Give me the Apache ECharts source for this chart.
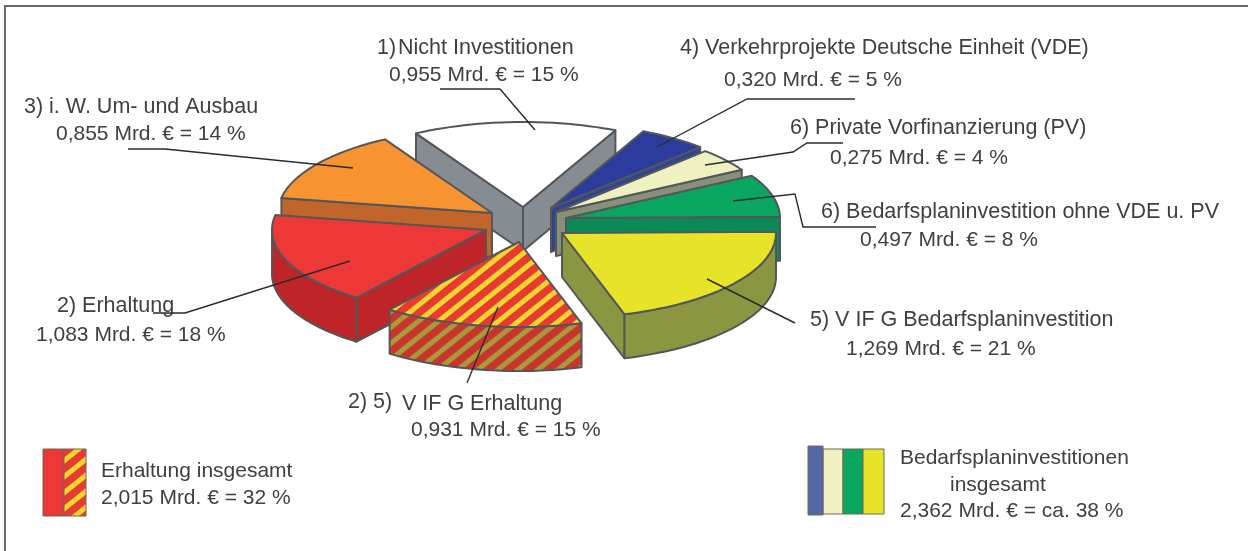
<!DOCTYPE html>
<html>
<head>
<meta charset="utf-8">
<style>
    html, body { margin: 0; padding: 0; background: #fff; }
    #chart { width: 1248px; height: 551px; }
</style>
<script src="https://cdn.jsdelivr.net/npm/echarts@6/dist/echarts.min.js"></script>
</head>
<body>
<div id="chart"></div>
<script>
/** Anteile in Mrd. Euro, im Uhrzeigersinn ab "Nicht Investitionen" */
const categories = [
    "Nicht Investitionen",
    "Verkehrprojekte Deutsche Einheit (VDE)",
    "Private Vorfinanzierung (PV)",
    "Bedarfsplaninvestition ohne VDE u. PV",
    "V IF G Bedarfsplaninvestition",
    "V IF G Erhaltung",
    "Erhaltung",
    "i. W. Um- und Ausbau",
];
const footnotes = ["1)", "4)", "6)", "6)", "5)", "2) 5)", "2)", "3)"];
const amounts = [0.955, 0.320, 0.275, 0.497, 1.269, 0.931, 1.083, 0.855];
const percents = [15, 5, 4, 8, 21, 15, 18, 14];
const totalErhaltung = ["Erhaltung insgesamt", "2,015 Mrd. € = 32 %"];
const totalBedarf = ["Bedarfsplaninvestitionen", "insgesamt", "2,362 Mrd. € = ca. 38 %"];

const amountText = (i) => `${amounts[i].toFixed(3).replace(".", ",")} Mrd. € = ${percents[i]} %`;

// Darstellung der Torte
const RX = 214;
const RY = 85;
const DEPTH = 44;
const START_ANGLE = 120;
const EDGE = "#54565a";
// Spitze jeder Scheibe (explodierte Darstellung)
const apexes = [
    [523, 207], [551, 208], [556, 212], [566, 218],
    [562, 233], [519, 242], [486, 230], [492, 213],
];
// gezeichnet wird von hinten nach vorn
const drawOrder = [0, 7, 6, 5, 1, 2, 3, 4];
const hatch = (base, stripe) => {
    const tile = document.createElement("canvas");
    tile.width = 20;
    tile.height = 16;
    const ctx = tile.getContext("2d");
    ctx.fillStyle = base;
    ctx.fillRect(0, 0, 20, 16);
    ctx.strokeStyle = stripe;
    ctx.lineWidth = 5;
    [-20, 0, 20].forEach((shift) => {
        ctx.beginPath();
        ctx.moveTo(shift - 20, 32);
        ctx.lineTo(shift + 40, -16);
        ctx.stroke();
    });
    return { image: tile, repeat: "repeat" };
};
const topColors = [
    "#ffffff", "#2b3c9c", "#f0f1c0", "#08a65e",
    "#e6e328", hatch("#e83a30", "#f6d42e"), "#ee3737", "#f79331",
];
const sideColors = [
    "#868d92", "#2f4592", "#88907a", "#0b8a58",
    "#8b9640", hatch("#c9352c", "#a89a3c"), "#bf2429", "#c1652b",
];
const sum = amounts.reduce((a, b) => a + b, 0);

function renderSlice(params, api) {
    const index = api.value(1);
    const before = amounts.slice(0, index).reduce((a, b) => a + b, 0);
    const from = START_ANGLE - (before / sum) * 360;
    const to = from - (api.value(0) / sum) * 360;
    const [cx, cy] = apexes[index];
    const at = (deg) => [
        cx + RX * Math.cos(deg * Math.PI / 180),
        cy - RY * Math.sin(deg * Math.PI / 180),
    ];
    const down = (p) => [p[0], p[1] + DEPTH];
    const cosOf = (deg) => Math.cos(deg * Math.PI / 180);
    const arc = [];
    for (let t = from; t > to; t -= 2) {
        arc.push(at(t));
    }
    arc.push(at(to));
    const edgeStyle = { stroke: EDGE, lineWidth: 2, lineJoin: "round" };
    const side = { fill: sideColors[index], ...edgeStyle };
    const children = [];
    const cutWall = (p) => ({
        type: "polygon",
        shape: { points: [[cx, cy], p, down(p), down([cx, cy])] },
        style: side,
    });
    // nur die Schnittflaechen, die zum Betrachter zeigen
    if (cosOf(from) < 0) {
        children.push(cutWall(arc[0]));
    }
    if (cosOf(to) > 0) {
        children.push(cutWall(arc[arc.length - 1]));
    }
    const front = arc.filter((p) => p[1] >= cy);
    if (front.length > 1) {
        children.push({
            type: "polygon",
            shape: { points: front.concat(front.map(down).reverse()) },
            style: side,
        });
    }
    children.push({
        type: "polygon",
        shape: { points: [[cx, cy]].concat(arc) },
        style: { fill: topColors[index], ...edgeStyle },
    });
    return { type: "group", children };
}

const FONT = "'Liberation Sans', Arial, sans-serif";
const text = (x, y, value, size = 21) => ({
    type: "text",
    x,
    y: y + 1,
    silent: true,
    style: {
        text: value,
        font: `${size}px ${FONT}`,
        fill: "#404040",
        textVerticalAlign: "middle",
    },
});
const NAME_SIZE = 21.5;
const leader = (points, color = "#2b2b2b") => ({
    type: "polyline",
    silent: true,
    z: 20,
    shape: { points },
    style: { stroke: color, lineWidth: 1.4, fill: null },
});
const rect = (x, y, w, h, fill) => ({
    type: "rect",
    silent: true,
    shape: { x, y, width: w, height: h },
    style: { fill, stroke: "#6b6a55", lineWidth: 1 },
});

const labels = [
    text(377, 47, footnotes[0], NAME_SIZE), text(398, 47, categories[0], NAME_SIZE), text(389, 74, amountText(0)),
    text(680, 47, `${footnotes[1]} ${categories[1]}`, NAME_SIZE), text(724, 79, amountText(1)),
    text(790, 127, `${footnotes[2]} ${categories[2]}`, NAME_SIZE), text(830, 157, amountText(2)),
    text(821, 211, `${footnotes[3]} ${categories[3]}`, NAME_SIZE), text(860, 239, amountText(3)),
    text(810, 319, `${footnotes[4]} ${categories[4]}`, NAME_SIZE), text(846, 348, amountText(4)),
    text(348, 401, footnotes[5], NAME_SIZE), text(402, 403, categories[5], NAME_SIZE), text(411, 429, amountText(5)),
    text(57, 305, `${footnotes[6]} ${categories[6]}`, NAME_SIZE), text(36, 334, amountText(6)),
    text(24, 106, `${footnotes[7]} ${categories[7]}`, NAME_SIZE), text(56, 133, amountText(7)),
    text(101, 470, totalErhaltung[0]), text(101, 497, totalErhaltung[1]),
    text(900, 457, totalBedarf[0]), text(950, 484, totalBedarf[1]), text(900, 510, totalBedarf[2]),
];
const leaders = [
    leader([[440, 89], [500, 89], [535, 130]]),
    leader([[855, 99], [747, 99], [657, 147]]),
    leader([[843, 143], [807, 143], [793, 152], [705, 165]]),
    leader([[876, 227], [803, 227], [795, 194], [733, 201]]),
    leader([[707, 279], [795, 323]]),
    leader([[498, 307], [467, 383]]),
    leader([[350, 261], [185, 313], [153, 313]]),
    leader([[353, 168], [165, 149], [128, 149]]),
];
const swatches = [
    rect(43, 449, 21, 67, "#ee3737"),
    rect(64, 449, 22, 67, hatch("#e83a30", "#f6d42e")),
    rect(823, 449, 20, 65, "#f0f1c0"),
    rect(843, 449, 20, 65, "#08a65e"),
    rect(863, 449, 21, 65, "#e6e328"),
    rect(808, 446, 15, 69, "#5468a8"),
];
const frame = {
    type: "polyline",
    silent: true,
    shape: { points: [[5, 560], [5, 6], [1250, 6]] },
    style: { stroke: "#6a6a6a", lineWidth: 2, fill: null },
};

const option = {
    backgroundColor: "#ffffff",
    animation: false,
    series: [
        {
            type: "custom",
            coordinateSystem: "none",
            silent: true,
            renderItem: renderSlice,
            dimensions: ["amount", "slice"],
            data: drawOrder.map((i) => ({ name: categories[i], value: [amounts[i], i] })),
        },
    ],
    graphic: { elements: [frame, ...swatches, ...labels, ...leaders] },
};

const chart = echarts.init(document.getElementById("chart"));
chart.setOption(option);
</script>
</body>
</html>
